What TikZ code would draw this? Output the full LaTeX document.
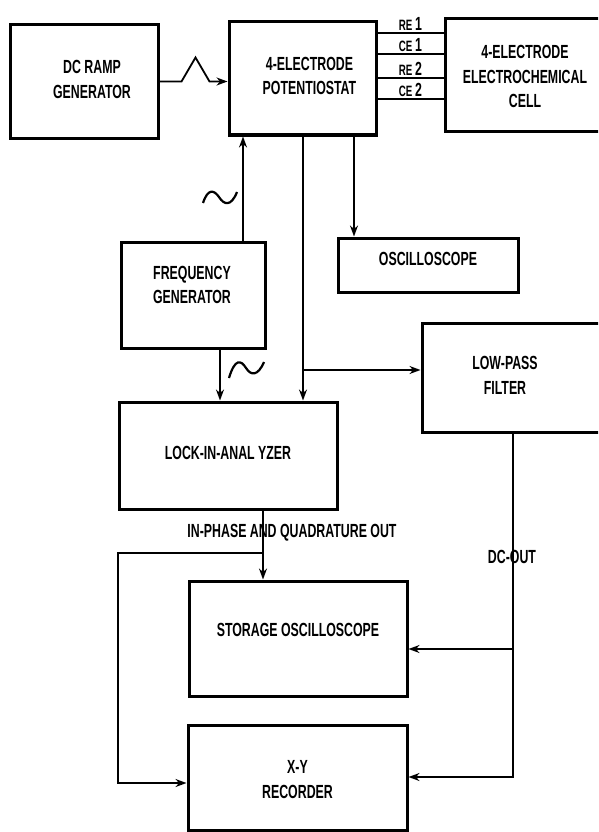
\documentclass[tikz,border=0pt]{standalone}
\usepackage{fontspec}
\newfontfamily\lab{Liberation Sans Bold}[FakeStretch=0.65]
\usetikzlibrary{arrows.meta}
\begin{document}
\begin{tikzpicture}[x=1pt,y=-1pt,
  box/.style={draw, line width=3pt, rectangle, inner sep=0pt},
  lbl/.style={font=\lab\fontsize{19}{24.5}\selectfont, align=center, inner sep=0pt},
  small/.style={font=\lab\fontsize{15}{15}\selectfont, inner sep=1.5pt},
  wire/.style={line width=1.8pt},
  arr/.style={wire, -{Stealth[length=11pt,width=8pt]}},
]
\useasboundingbox (0,0) rectangle (598,832);
\clip (0,0) rectangle (598,832);

% boxes
\node[box, minimum width=148pt, minimum height=113pt,
  label={[lbl, xshift=8pt, yshift=2pt]center:DC RAMP\\GENERATOR}] (ramp) at (84,81.5) {};
\node[box, minimum width=147pt, minimum height=113pt,
  label={[lbl, xshift=7pt, yshift=2.5pt]center:4-ELECTRODE\\POTENTIOSTAT}] (pot) at (302.5,78.5) {};
\node[box, minimum width=160pt, minimum height=113pt,
  label={[lbl, yshift=-1pt]center:4-ELECTRODE\\ELECTROCHEMICAL\\CELL}] (cell) at (525,75.5) {};
\node[box, minimum width=180pt, minimum height=54pt,
  label={[lbl, yshift=6pt]center:OSCILLOSCOPE}] (osc) at (428,265) {};
\node[box, minimum width=144pt, minimum height=106pt,
  label={[lbl, xshift=-1pt, yshift=10pt]center:FREQUENCY\\GENERATOR}] (freq) at (193,295) {};
\node[box, minimum width=183pt, minimum height=109pt,
  label={[lbl, xshift=-8.5pt, yshift=2pt]center:LOW-PASS\\FILTER}] (lpf) at (513.5,377.5) {};
\node[box, minimum width=218pt, minimum height=107pt,
  label={[lbl, yshift=2.5pt]center:LOCK-IN-ANAL YZER}] (lockin) at (228,455.5) {};
\node[box, minimum width=218pt, minimum height=115pt,
  label={[lbl, yshift=8.5pt]center:STORAGE OSCILLOSCOPE}] (storage) at (298,638.5) {};
\node[box, minimum width=219pt, minimum height=105pt,
  label={[lbl, yshift=-2pt]center:X-Y\\RECORDER}] (xy) at (297.5,777.5) {};

% column / branch coordinates
\coordinate (c1) at (243,0);
\coordinate (c2) at (303,0);
\coordinate (c3) at (354,0);
\coordinate (c4) at (220,0);
\coordinate (c5) at (263,0);
\coordinate (br1) at (303,370);
\coordinate (br2) at (263,553);
\coordinate (br3) at (118,783);
\coordinate (br4) at (513,649);
\coordinate (br5) at (513,777);

% ramp -> potentiostat with triangle wave
\draw[arr] (ramp.east) -- ++(22,0) -- ++(14,-24) -- ++(14,24) -- (ramp.east -| pot.west);

% potentiostat <-> cell electrode leads
\draw[wire] (pot.east |- 0,33) -- node[small, above]{RE {\fontsize{19}{19}\selectfont 1}} (cell.west |- 0,33);
\draw[wire] (pot.east |- 0,54) -- node[small, above]{CE {\fontsize{19}{19}\selectfont 1}} (cell.west |- 0,54);
\draw[wire] (pot.east |- 0,78) -- node[small, above]{RE {\fontsize{19}{19}\selectfont 2}} (cell.west |- 0,78);
\draw[wire] (pot.east |- 0,99) -- node[small, above]{CE {\fontsize{19}{19}\selectfont 2}} (cell.west |- 0,99);

% frequency generator -> potentiostat
\draw[arr] (freq.north -| c1) -- (pot.south -| c1);
\draw[wire, line width=2.2pt] (203,203) .. controls (208,188) and (214,190) .. (219,197) .. controls (224,205) and (231,207) .. (237,192);

% potentiostat -> oscilloscope
\draw[arr] (pot.south -| c3) -- (osc.north -| c3);

% potentiostat -> lock-in, branch to low-pass filter
\draw[arr] (pot.south -| c2) -- (lockin.north -| c2);
\draw[arr] (br1) -- (br1 -| lpf.west);

% frequency generator -> lock-in
\draw[arr] (freq.south -| c4) -- (lockin.north -| c4);
\draw[wire, line width=2.2pt] (229,378) .. controls (235,358) and (241,360) .. (246,368) .. controls (251,376) and (258,376) .. (264,362);

% lock-in -> storage scope and X-Y recorder
\draw[arr] (lockin.south -| c5) -- (storage.north -| c5);
\draw[arr] (br2) -| (br3) -- (br3 -| xy.west);
\node[lbl] (inq) at (292,533) {IN-PHASE AND QUADRATURE OUT};

% low-pass filter -> storage scope and X-Y recorder
\draw[arr] (lpf.south -| br5) -- (br5) -- (br5 -| xy.east);
\draw[arr] (br4) -- (br4 -| storage.east);
\node[lbl] (dcout) at (512,557) {DC-OUT};
\end{tikzpicture}
\end{document}
